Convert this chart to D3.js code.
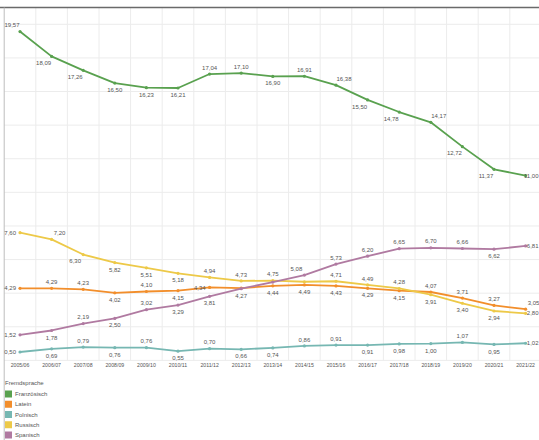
<!DOCTYPE html>
<html>
<head>
<meta charset="utf-8">
<script src="https://cdn.jsdelivr.net/npm/d3@7"></script>
<style>
  html, body { margin: 0; padding: 0; background: #fff; }
  svg { display: block; font-family: "Liberation Sans", Arial, sans-serif; }
</style>
</head>
<body>
<svg id="chart" width="539" height="440"></svg>
<script>
// School years (x categories)
const years = ["2005/06","2006/07","2007/08","2008/09","2009/10","2010/11","2011/12","2012/13",
  "2013/14","2014/15","2015/16","2016/17","2017/18","2018/19","2019/20","2020/21","2021/22"];

// Share of pupils per foreign language (%)
const franzoesisch = [19.57,18.09,17.26,16.50,16.23,16.21,17.04,17.10,16.90,16.91,16.38,15.50,14.78,14.17,12.72,11.37,11.00];
const latein       = [4.29,4.29,4.23,4.02,4.10,4.15,4.34,4.30,4.44,4.49,4.43,4.29,4.15,4.07,3.71,3.27,3.05];
const polnisch     = [0.50,0.69,0.79,0.76,0.76,0.55,0.70,0.66,0.74,0.86,0.91,0.91,0.98,1.00,1.07,0.95,1.02];
const russisch     = [7.60,7.20,6.30,5.82,5.51,5.18,4.94,4.73,4.75,4.68,4.71,4.49,4.28,3.91,3.40,2.94,2.80];
const spanisch     = [1.52,1.78,2.19,2.50,3.02,3.29,3.81,4.27,4.66,5.08,5.73,6.20,6.65,6.70,6.66,6.62,6.81];

const seriesNames = ["Französisch","Latein","Polnisch","Russisch","Spanisch"];
const seriesValues = [franzoesisch, latein, polnisch, russisch, spanisch];
const colors = ["#59a14f","#f28e2b","#76b7b2","#edc948","#b07aa1"];

// Label anchor per point: a=above, b=below, al/ar/bl=diagonal, l=left, r=right edge, -=no label
const labelSides = [
  ["al","bl","bl","b","b","b","a","a","b","a","ar","bl","bl","ar","bl","bl","r"],
  ["l","a","a","b","a","b","l","-","b","b","b","b","b","a","a","a","ar"],
  ["l","b","a","b","a","b","a","b","b","a","a","b","b","b","a","b","r"],
  ["l","ar","bl","b","b","b","a","a","a","-","a","a","a","b","b","b","r"],
  ["l","b","a","b","a","b","b","b","-","al","a","a","a","a","a","b","r"]
];

const W = 539, H = 440;
const plotTop = 7.5, plotBottom = 360.4, plotLeft = 4.2;
const svg = d3.select("#chart");

const x = d3.scaleBand().domain(years).range([plotLeft, plotLeft + 31.6 * years.length]).paddingInner(0).paddingOuter(0);
const cx = d => x(d) + x.bandwidth() / 2;
const y = d3.scaleLinear().domain([0, 21]).range([plotBottom, plotTop]);

// grid
const grid = svg.append("g").attr("stroke", "#ececec").attr("stroke-width", 1);
grid.selectAll("line.h").data(d3.range(0, 21, 2)).join("line")
  .attr("x1", plotLeft).attr("x2", W)
  .attr("y1", d => y(d)).attr("y2", d => y(d));
grid.selectAll("line.v").data(years.slice(1)).join("line")
  .attr("x1", d => x(d)).attr("x2", d => x(d))
  .attr("y1", plotTop).attr("y2", plotBottom);

// frame
svg.append("line").attr("x1", 0).attr("x2", W).attr("y1", plotTop).attr("y2", plotTop)
  .attr("stroke", "#6a6a6a").attr("stroke-width", 1.5);
svg.append("line").attr("x1", plotLeft).attr("x2", plotLeft).attr("y1", plotTop).attr("y2", H)
  .attr("stroke", "#bdbdbd").attr("stroke-width", 1);

// x axis
const xAxis = svg.append("g").attr("transform", `translate(0,${plotBottom})`)
  .call(d3.axisBottom(x).tickSize(0).tickPadding(3));
xAxis.select(".domain").remove();
xAxis.selectAll("text").attr("font-size", 5.2).attr("fill", "#555")
  .attr("font-family", "'Liberation Sans', Arial, sans-serif");

// lines, points, labels
const line = d3.line().x((d, i) => cx(years[i])).y(d => y(d));
const fmt = v => d3.format(".2f")(v).replace(".", ",");
const offsets = {
  a: [0, -6.5, "middle"], b: [0, 7, "middle"],
  al: [-8, -6.5, "middle"], ar: [8, -6.5, "middle"],
  bl: [-8, 6.5, "middle"],
  l: [-4, 0, "end"]
};
const labelX = d => d.side === "r" ? W - 0.5 : cx(years[d.i]) + offsets[d.side][0];
const labelY = d => y(d.v) + (d.side === "r" ? 0 : offsets[d.side][1]);
const labelAnchor = d => d.side === "r" ? "end" : offsets[d.side][2];

seriesValues.forEach((vals, s) => {
  const g = svg.append("g");
  g.append("path").datum(vals).attr("d", line)
    .attr("fill", "none").attr("stroke", colors[s]).attr("stroke-width", 1.8)
    .attr("stroke-linejoin", "round");
  g.selectAll("circle").data(vals).join("circle")
    .attr("cx", (d, i) => cx(years[i])).attr("cy", d => y(d))
    .attr("r", 1.6).attr("fill", colors[s]);
  g.selectAll("text").data(vals.map((v, i) => ({ v, i, side: labelSides[s][i] })).filter(d => d.side !== "-"))
    .join("text")
    .attr("x", labelX)
    .attr("y", labelY)
    .attr("dy", "0.35em")
    .attr("text-anchor", labelAnchor)
    .attr("font-size", 6).attr("fill", "#555")
    .text(d => fmt(d.v));
});

// legend
const legend = svg.append("g").attr("transform", "translate(5,383)");
legend.append("text").attr("x", 0).attr("y", 0).attr("dy", "0.35em")
  .attr("font-size", 6).attr("fill", "#555").text("Fremdsprache");
const items = legend.selectAll("g.item").data(seriesNames).join("g")
  .attr("transform", (d, i) => `translate(0,${11 + i * 10.25})`);
items.append("rect").attr("x", 0).attr("y", -3.5).attr("width", 7).attr("height", 7)
  .attr("fill", (d, i) => colors[i]);
items.append("text").attr("x", 10).attr("y", 0).attr("dy", "0.35em")
  .attr("font-size", 6).attr("fill", "#555").text(d => d);
</script>
</body>
</html>
